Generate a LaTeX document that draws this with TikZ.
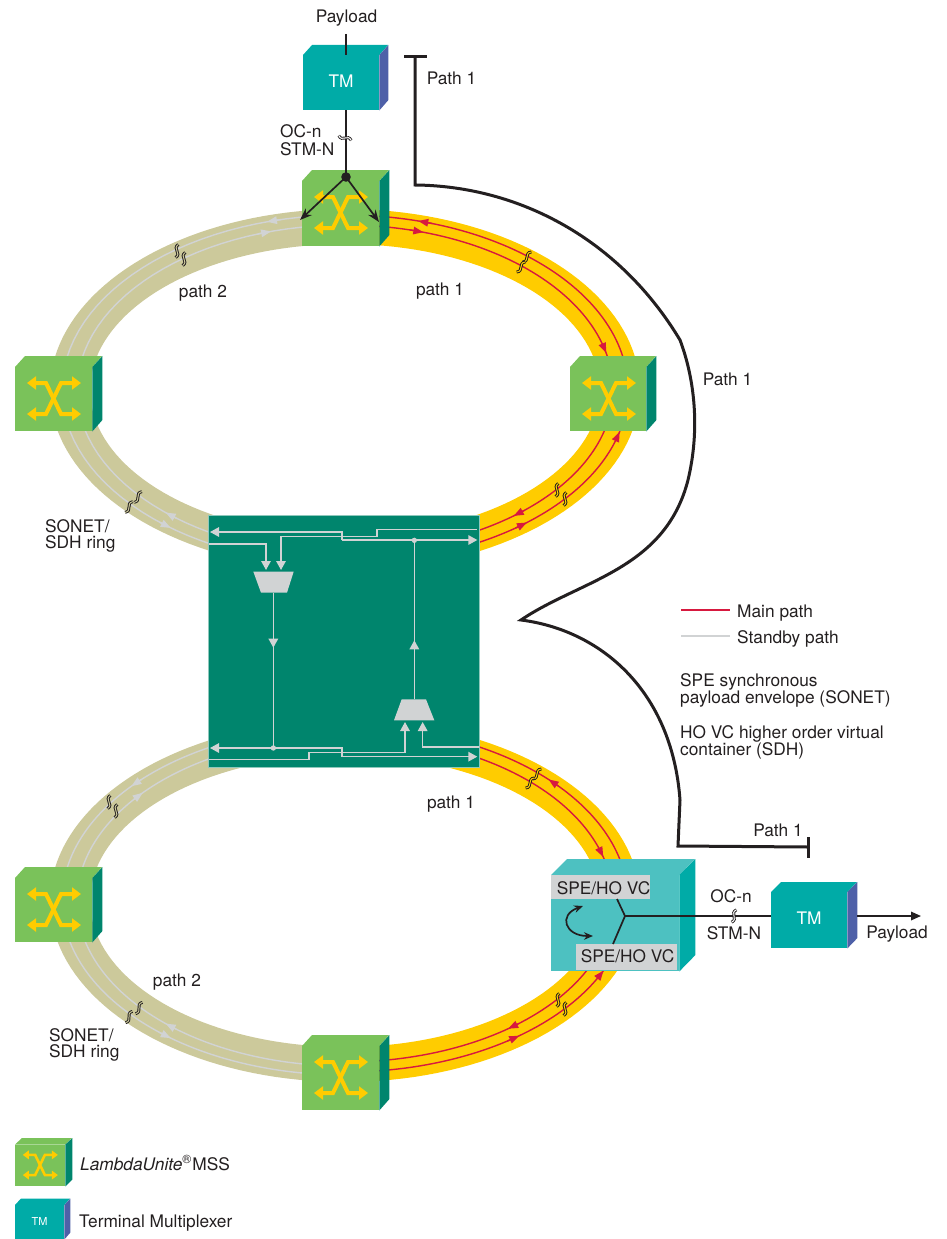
\documentclass[tikz,border=0pt]{standalone}
\usepackage{fontspec}
\setmainfont{TeX Gyre Heros}
\usetikzlibrary{arrows.meta}
\definecolor{beige}{HTML}{CCC99B}
\definecolor{ylw}{HTML}{FFCC00}
\definecolor{redl}{HTML}{D7193F}
\definecolor{grayl}{HTML}{D1D3D4}
\definecolor{msgreen}{HTML}{7AC25A}
\definecolor{dkgreen}{HTML}{00856D}
\definecolor{tmteal}{HTML}{00ABA7}
\definecolor{tmblue}{HTML}{4E60A8}
\definecolor{speteal}{HTML}{4DC1C1}
\definecolor{ink}{HTML}{231F20}
\definecolor{boxedge}{HTML}{8FC8BC}
\tikzset{
  lbl/.style={text=ink,inner sep=0pt,font=\fontsize{17.3}{20}\selectfont},
  lblw/.style={lbl,anchor=west},
  blk/.style={draw=ink,line width=1.7pt},
  pathone/.style={draw=ink,line width=3pt,line join=miter},
  wire/.style={draw=grayl,line width=1.4pt},
  wiretip/.style={wire,-{Triangle[length=9pt,width=9.5pt]}},
}
% ring half: colour, centre y, start, end parameter
\newcommand{\ringhalf}[4]{\fill[#1] plot[domain=#3:#4,samples=80] ({345+295*cos(\x)},{#2-181*sin(\x)}) -- plot[domain=#4:#3,samples=80] ({345+255*cos(\x)},{#2-146*sin(\x)}) -- cycle;}
% ring line: colour, cy, a, b, t1, t2
\newcommand{\ringarc}[6]{\draw[#1,line width=1.4pt] plot[domain=#5:#6,samples=60] ({345+#3*cos(\x)},{#2-#4*sin(\x)});}
% ring tip: colour, cy, a, b, t, direction sign
\newcommand{\ringtip}[6]{\draw[#1,line width=1.4pt,-{Triangle[length=10pt,width=7.5pt]}] ({345+#3*cos(#5-#6*3)},{#2-#4*sin(#5-#6*3)}) -- ({345+#3*cos(#5)},{#2-#4*sin(#5)});}
% break mark: x, y, rotation, inner colour
\newcommand{\squig}[4]{\begin{scope}[shift={(#1,#2)},rotate=#3]\draw[draw=ink,line width=.95pt,double=#4,double distance=1pt] (2.4,-6.2) .. controls (-4.6,-3) and (4.6,3) .. (-2.4,6.2);\end{scope}}
% cube: name, x, y, w, h, dx, dy, front, side
\newcommand{\cube}[9]{%
  \node[fill=#8,anchor=north west,inner sep=0pt,minimum width=#4pt,minimum height=#5pt] (#1) at (#2,#3) {};
  \fill[#8] (#1.north west) -- ++(#6,-#7) -- ++(#4,0) -- (#1.north east) -- cycle;
  \fill[#9] (#1.north east) -- ++(#6,-#7) -- ++(0,#5) -- (#1.south east) -- cycle;
}
% crossed arrows on a switch cube: node, scale
\newcommand{\cross}[2]{\begin{scope}[shift={(#1.north west)},scale=#2]
  \draw[draw=ylw,line width=#2*4pt,{Triangle[length=#2*9pt,width=#2*13pt]}-{Triangle[length=#2*9pt,width=#2*13pt]}] (12,16) -- (31,16) -- (46,47) -- (66,47);
  \draw[draw=ylw,line width=#2*4pt,{Triangle[length=#2*9pt,width=#2*13pt]}-{Triangle[length=#2*9pt,width=#2*13pt]}] (66,16) -- (46,16) -- (31,47) -- (12,47);
\end{scope}}
\begin{document}
\begin{tikzpicture}[x=1pt,y=-1pt]
\useasboundingbox (0,0) rectangle (946,1239);
% rings
\ringhalf{beige}{390}{90}{270}
\ringhalf{ylw}{390}{-90}{90}
\ringhalf{beige}{901}{90}{270}
\ringhalf{ylw}{901}{-90}{90}
% upper ring lines
\ringarc{grayl}{390}{283}{175}{90}{270}
\ringarc{grayl}{390}{268}{165}{90}{270}
\ringarc{redl}{390}{283}{175}{0}{90}
\ringarc{redl}{390}{268}{165}{0}{90}
\ringarc{redl}{390}{283}{173}{-70}{0}
\ringarc{redl}{390}{268}{162}{-70}{0}
% lower ring lines
\ringarc{grayl}{901}{283}{175}{90}{180}
\ringarc{grayl}{901}{268}{165}{90}{180}
\ringarc{grayl}{901}{283}{174}{180}{270}
\ringarc{grayl}{901}{268}{165}{180}{270}
\ringarc{redl}{901}{283}{175}{0}{70}
\ringarc{redl}{901}{268}{165}{0}{70}
\ringarc{redl}{901}{283}{171}{-90}{0}
\ringarc{redl}{901}{268}{161}{-90}{0}
% ring arrowheads
\ringtip{grayl}{390}{283}{175}{106}{1}
\ringtip{grayl}{390}{268}{165}{106}{-1}
\ringtip{grayl}{390}{283}{175}{232}{1}
\ringtip{grayl}{390}{268}{165}{228}{-1}
\ringtip{grayl}{901}{283}{175}{139}{1}
\ringtip{grayl}{901}{268}{165}{139}{-1}
\ringtip{grayl}{901}{283}{174}{232}{1}
\ringtip{grayl}{901}{268}{165}{228}{-1}
\ringtip{redl}{390}{283}{175}{75}{1}
\ringtip{redl}{390}{268}{165}{73}{-1}
\ringtip{redl}{390}{268}{165}{13}{-1}
\ringtip{redl}{390}{283}{173}{-14}{1}
\ringtip{redl}{390}{268}{162}{-51}{-1}
\ringtip{redl}{390}{283}{173}{-50}{1}
\ringtip{redl}{901}{283}{175}{44}{1}
\ringtip{redl}{901}{268}{165}{15.5}{-1}
\ringtip{redl}{901}{283}{171}{-24}{1}
\ringtip{redl}{901}{268}{161}{-52.5}{-1}
\ringtip{redl}{901}{283}{171}{-52}{1}
% break marks on rings
\squig{177}{251}{10}{beige}\squig{184}{259}{10}{beige}
\squig{527}{257}{-20}{ylw}\squig{521}{267}{-20}{ylw}
\squig{138}{497}{-15}{beige}\squig{129}{507}{-15}{beige}
\squig{557}{490}{10}{ylw}\squig{565}{499}{10}{ylw}
\squig{109}{802}{10}{beige}\squig{116}{811}{10}{beige}
\squig{537}{774}{-20}{ylw}\squig{530}{783}{-20}{ylw}
\squig{139}{1008}{-10}{beige}\squig{129}{1017}{-10}{beige}
\squig{558}{1000}{10}{ylw}\squig{565}{1009}{10}{ylw}
% central box
\node[fill=dkgreen,draw=boxedge,line width=.6pt,anchor=north west,inner sep=0pt,minimum width=271pt,minimum height=252.5pt] (core) at (208.3,514.5) {};
\begin{scope}[shift={(190,500)},x=.33333pt,y=-.33333pt]
  \fill[grayl] (190,215) -- (311,215) -- (291,278) -- (213,278) -- cycle;
  \fill[grayl] (612,661) -- (733,661) -- (708,598) -- (635,598) -- cycle;
  \coordinate (muxout) at (250,278);
  \coordinate (demuxout) at (673,598);
  \coordinate (dotA) at (673,121);
  \coordinate (dotB) at (250,744);
  \draw[wiretip] (860,88) -- (561,88) -- (561,109) -- (273,109) -- (273,210);
  \draw[wiretip] (456,120) -- (456,96) -- (60,96);
  \draw[wiretip] (456,120) -- (862,120);
  \draw[wiretip] (56,132) -- (228,132) -- (228,210);
  \draw[wire] (muxout) -- (dotB);
  \draw[wiretip] (muxout) -- (250,443);
  \draw[wire] (demuxout) -- (dotA);
  \draw[wiretip] (demuxout) -- (673,421);
  \draw[wiretip] (456,770) -- (456,744) -- (60,744);
  \draw[wiretip] (456,770) -- (862,770);
  \draw[wiretip] (56,779) -- (357,779) -- (357,758) -- (645,758) -- (645,666);
  \draw[wiretip] (868,741) -- (698,741) -- (698,666);
  \fill[grayl] (dotA) circle[radius=8];
  \fill[grayl] (dotB) circle[radius=8];
\end{scope}
% connector ends at top cube and TM
\coordinate (payin) at (346,34);
\coordinate (hub) at (346,177);
\coordinate (tipL) at (300,220);
\coordinate (tipR) at (379,222);
% cubes
\cube{mssT}{302}{181}{77}{65}{10}{11}{msgreen}{dkgreen}
\cube{mssL}{15}{367}{77}{64}{10}{11}{msgreen}{dkgreen}
\cube{mssR}{570}{367}{76}{64}{10}{11}{msgreen}{dkgreen}
\cube{mssLL}{15}{878}{77}{64}{10}{11}{msgreen}{dkgreen}
\cube{mssB}{302}{1046}{77}{64}{10}{11}{msgreen}{dkgreen}
\cross{mssT}{1}\cross{mssL}{1}\cross{mssR}{1}\cross{mssLL}{1}\cross{mssB}{1}
\cube{tmT}{303}{55}{76}{55}{9}{10}{tmteal}{tmblue}
\cube{tmR}{771}{892}{76}{56}{10}{10}{tmteal}{tmblue}
\node[text=white,inner sep=0pt,font=\fontsize{17.3}{20}\selectfont] (tmTl) at (341,81.5) {TM};
\node[text=white,inner sep=0pt,font=\fontsize{17.3}{20}\selectfont] (tmRl) at (809,918.5) {TM};
% SPE cube
\cube{spe}{551}{875}{128}{96}{16}{16}{speteal}{tmteal}
\coordinate (spehub) at (625,916);
\node[fill=grayl,anchor=north west,inner sep=0pt,minimum width=99pt,minimum height=24pt] (speA) at (551,875) {};
\node[fill=grayl,anchor=north west,inner sep=0pt,minimum width=101pt,minimum height=26pt] (speB) at (576,944) {};
\node[lbl] (speAl) at (603.5,888.5) {SPE/HO VC};
\node[lbl] (speBl) at (627.5,956.5) {SPE/HO VC};
\coordinate (speAe) at (617,899);
\coordinate (speBe) at (613,944);
\coordinate (rotA) at (583,906);
\coordinate (rotB) at (593,936);
\draw[blk,{Stealth[length=9pt,width=7.5pt]}-{Stealth[length=9pt,width=7.5pt]}] (rotA) .. controls (558,915) and (565,936) .. (rotB);
\draw[blk] (speAe) -- (spehub) -- (speBe);
\draw[blk] (spehub) -- (spehub -| tmR.west);
\coordinate (payout) at (921,916);
\draw[blk,-{Triangle[length=10pt,width=8.5pt]}] (spehub -| tmR.east) ++(10,0) -- (payout);
% top connectors
\draw[blk] (payin) -- (payin |- tmT.north);
\draw[blk] (tmT.south -| hub) -- (hub);
\draw[blk,-{Stealth[length=12pt,width=9pt]}] (hub) -- (tipL);
\draw[blk,-{Stealth[length=12pt,width=9pt]}] (hub) -- (tipR);
\fill[ink] (hub) circle[radius=4.8];
\squig{345}{138}{90}{white}
\squig{734}{916}{0}{white}
% Path 1 route
\coordinate (p1start) at (415,57);
\coordinate (p1knee) at (415,185);
\coordinate (p1a) at (680,340);
\coordinate (p1b) at (688,480);
\coordinate (p1c) at (521,620);
\coordinate (p1d) at (680,800);
\coordinate (p1e) at (678,846);
\coordinate (p1end) at (808,847);
\draw[pathone] (404,57) -- (426.5,57);
\draw[pathone] (p1start) -- (p1knee) .. controls (520,186) and (620,240) .. (p1a) .. controls (695,380) and (700,430) .. (p1b) .. controls (665,570) and (580,580) .. (p1c) .. controls (600,630) and (672,690) .. (p1d) -- (p1e) -- (p1end);
\draw[pathone] (808.5,837) -- (808.5,858);
% labels
\node[lbl] (t1) at (346.5,18) {Payload};
\node[lbl] (t2) at (451.5,78) {Path 1};
\node[lblw] (t3) at (280,131) {OC-n};
\node[lblw] (t4) at (280,149) {STM-N};
\node[lbl] (t5) at (203,293) {path 2};
\node[lbl] (t6) at (440,291) {path 1};
\node[lbl] (t7) at (727.5,379) {Path 1};
\node[lblw] (t8) at (45,526) {SONET/};
\node[lblw] (t9) at (45,544) {SDH ring};
\node[lblw] (t10) at (737,613) {Main path};
\node[lblw] (t11) at (737,639) {Standby path};
\coordinate (k1a) at (681,610);\coordinate (k1b) at (730,610);
\coordinate (k2a) at (681,636);\coordinate (k2b) at (730,636);
\draw[redl,line width=1.6pt] (k1a) -- (k1b);
\draw[grayl,line width=1.6pt] (k2a) -- (k2b);
\node[lblw] (t12) at (680,682) {SPE synchronous};
\node[lblw] (t13) at (680,699) {payload envelope (SONET)};
\node[lblw] (t14) at (680,734) {HO VC higher order virtual};
\node[lblw] (t15) at (680,751) {container (SDH)};
\node[lbl] (t16) at (451,804) {path 1};
\node[lbl] (t17) at (778,830) {Path 1};
\node[lbl] (t18) at (731,896) {OC-n};
\node[lbl] (t19) at (734,933) {STM-N};
\node[lbl] (t20) at (897,934) {Payload};
\node[lbl] (t21) at (177,982) {path 2};
\node[lblw] (t22) at (49,1035) {SONET/};
\node[lblw] (t23) at (49,1053) {SDH ring};
% legend
\cube{legM}{15}{1144.5}{50}{41.5}{7}{6.5}{msgreen}{dkgreen}
\begin{scope}[shift={(legM.north west)},xscale=.65,yscale=.65]
  \draw[draw=ylw,line width=2.6pt,{Triangle[length=6pt,width=8.5pt]}-{Triangle[length=6pt,width=8.5pt]}] (12,16) -- (31,16) -- (46,47) -- (66,47);
  \draw[draw=ylw,line width=2.6pt,{Triangle[length=6pt,width=8.5pt]}-{Triangle[length=6pt,width=8.5pt]}] (66,16) -- (46,16) -- (31,47) -- (12,47);
\end{scope}
\node[lblw] (t24) at (80,1163) {\textit{LambdaUnite}\textsuperscript{\textregistered}\hspace{.5pt}MSS};
\cube{legT}{15}{1205}{49}{34}{6}{6.5}{tmteal}{tmblue}
\node[text=white,inner sep=0pt,font=\fontsize{11}{13}\selectfont] (legTl) at (39.5,1221) {TM};
\node[lblw] (t25) at (79,1223) {Terminal Multiplexer};
\end{tikzpicture}
\end{document}
